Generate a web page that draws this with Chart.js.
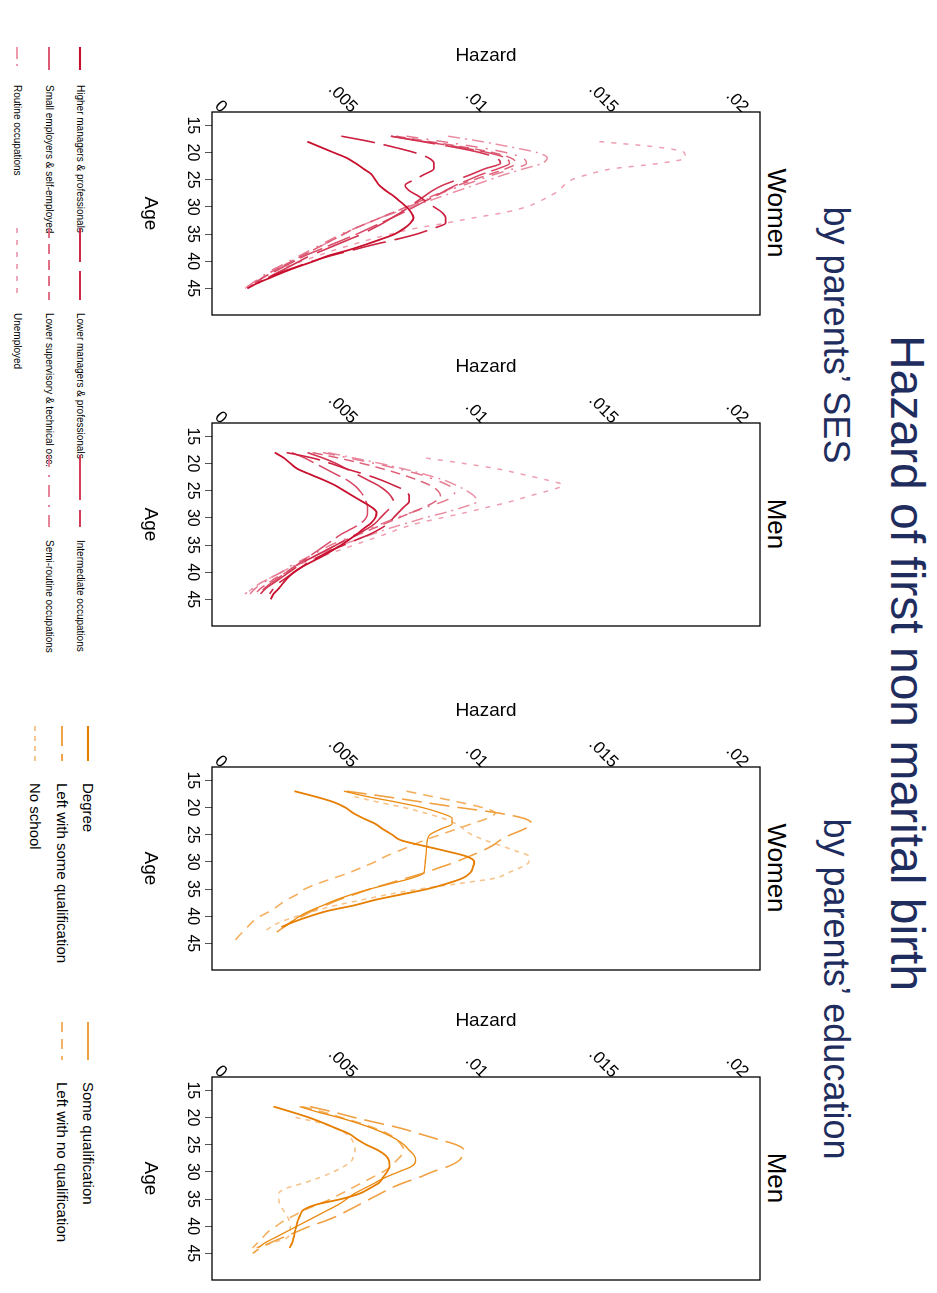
<!DOCTYPE html>
<html>
<head>
<meta charset="utf-8">
<script src="https://cdn.jsdelivr.net/npm/chart.js@4.4.0/dist/chart.umd.min.js"></script>
<style>
  html, body { margin: 0; padding: 0; background: #fff; overflow: hidden; }
  body { width: 937px; height: 1293px; position: relative; font-family: "Liberation Sans", Arial, sans-serif; }
  /* the figure is laid out in landscape and turned a quarter clockwise */
  #page { position: absolute; left: 0; top: 0; width: 1293px; height: 937px;
          transform-origin: 0 0; transform: translate(937px, 0) rotate(90deg); }
  #page canvas { position: absolute; }
  .txt { position: absolute; white-space: nowrap; line-height: 1; transform: translate(-50%, -50%); }
  .head { color: #1f2d5e; }
  .leg { position: absolute; white-space: nowrap; line-height: 1; transform: translateY(-50%); color: #000; }
  .sample { position: absolute; }
</style>
</head>
<body>
<div id="page">
  <div class="txt head" style="left:663px; top:30px; font-size:48px;">Hazard of first non marital birth</div>
  <div class="txt head" style="left:335px; top:101px; font-size:36px;">by parents’ SES</div>
  <div class="txt head" style="left:989px; top:101px; font-size:36px;">by parents’ education</div>
  <div class="txt" style="left:213px; top:160px; font-size:26px;">Women</div>
  <div class="txt" style="left:524px; top:160px; font-size:26px;">Men</div>
  <div class="txt" style="left:868px; top:160px; font-size:26px;">Women</div>
  <div class="txt" style="left:1178px; top:160px; font-size:26px;">Men</div>
  <canvas id="sesWomen" width="313" height="633" style="left:12px; top:172px;"></canvas>
  <canvas id="sesMen" width="313" height="633" style="left:323px; top:172px;"></canvas>
  <canvas id="eduWomen" width="313" height="633" style="left:667px; top:172px;"></canvas>
  <canvas id="eduMen" width="313" height="633" style="left:977px; top:172px;"></canvas>
</div>
<script>
// ages 17..46, hazards are per 1000
const ages = [17, 18, 19, 20, 21, 22, 23, 24, 25, 26, 27, 28, 29, 30, 31, 32, 33, 34, 35, 36, 37, 38, 39, 40, 41, 42, 43, 44, 45, 46];
const ageTicks = [15, 20, 25, 30, 35, 40, 45];
const hazardTicks = [0, 0.005, 0.01, 0.015, 0.02];
const hazardLabels = ['0', '.005', '.01', '.015', '.02'];

const sesNames = ['Higher managers & professionals', 'Lower managers & professionals', 'Intermediate occupations',
  'Small employers & self-employed', 'Lower supervisory & technical occ.', 'Semi-routine occupations',
  'Routine occupations', 'Unemployed'];
const eduNames = ['Degree', 'Some qualification', 'Left with some qualification', 'Left with no qualification', 'No school'];

// parents' SES, women
const sesW1 = [null, 3.2, 3.7, 4.2, 4.7, 5.05, 5.35, 5.65, 5.8, 5.95, 6.2, 6.5, 6.75, 7.0, 7.17, 7.27, 7.15, 6.9, 6.55, 6.0, 5.4, 4.75, 4.0, 3.45, 2.85, 2.3, 1.8, 1.3, 0.9, null];
const sesW2 = [4.5, 5.6, 6.5, 7.3, 7.85, 8.05, 8.05, 7.7, 7.3, 6.95, 7.1, 7.45, 7.75, 8.05, 8.35, 8.5, 8.5, 8.0, 7.4, 6.6, 5.7, 4.9, 4.1, 3.4, 2.8, 2.2, 1.7, 1.3, null, null];
const sesW3 = [6.4, 7.6, 8.8, 9.8, 10.45, 10.6, 10.0, 9.5, 8.95, 8.4, 8.0, 7.7, 7.4, 7.1, 6.8, 6.45, 6.1, 5.7, 5.3, 4.8, 4.3, 3.8, 3.3, 2.9, 2.5, 2.1, 1.7, 1.35, null, null];
const sesW4 = [6.4, 7.7, 9.0, 10.1, 10.8, 10.95, 10.5, 9.9, 9.4, 8.9, 8.5, 8.1, 7.7, 7.3, 6.9, 6.45, 6.0, 5.55, 5.1, 4.6, 4.1, 3.6, 3.1, 2.7, 2.3, 1.9, 1.5, 1.2, null, null];
const sesW5 = [6.6, 7.9, 9.2, 10.3, 11.0, 11.2, 10.8, 10.2, 9.6, 9.0, 8.5, 8.0, 7.5, 7.0, 6.5, 6.0, 5.5, 5.0, 4.6, 4.2, 3.8, 3.4, 3.0, 2.6, 2.2, 1.8, 1.5, 1.2, 0.9, null];
const sesW6 = [7.0, 8.4, 9.7, 10.8, 11.45, 11.6, 11.1, 10.4, 9.8, 9.2, 8.6, 8.1, 7.6, 7.05, 6.5, 6.0, 5.5, 5.0, 4.5, 4.1, 3.7, 3.3, 2.9, 2.5, 2.1, 1.7, 1.4, 1.1, 0.8, null];
const sesW7 = [8.6, 9.9, 11.0, 12.0, 12.4, 12.2, 11.5, 10.8, 10.2, 9.6, 9.0, 8.4, 7.8, 7.2, 6.6, 6.0, 5.5, 5.0, 4.6, 4.2, 3.8, 3.4, 3.0, 2.6, 2.2, 1.8, 1.5, 1.2, 0.9, null];
const sesW8 = [null, 14.4, 16.6, 17.65, 17.7, 16.7, 14.9, 14.0, 13.35, 13.05, 12.85, 12.5, 12.1, 11.6, 10.8, 9.6, 8.5, 7.3, 6.4, 5.6, 4.9, 4.2, 3.6, 3.0, 2.4, 1.9, 1.5, 1.1, 0.8, null];

// parents' SES, men
const sesM1 = [null, 1.95, 2.3, 2.55, 2.82, 3.3, 3.8, 4.25, 4.6, 4.95, 5.3, 5.65, 5.85, 5.8, 5.63, 5.35, 5.1, 4.8, 4.5, 4.15, 3.8, 3.4, 3.0, 2.68, 2.45, 2.27, 2.1, 1.9, 1.8, null];
const sesM2 = [null, 2.4, 3.4, 4.1, 4.7, 5.4, 6.0, 6.5, 6.95, 7.1, 7.1, 6.9, 6.7, 6.5, 6.3, 6.0, 5.6, 5.1, 4.6, 4.1, 3.7, 3.3, 3.0, 2.7, 2.4, 2.1, 1.9, 1.75, null, null];
const sesM3 = [null, 3.2, 3.8, 4.3, 4.7, 5.1, 5.5, 5.9, 6.2, 6.4, 6.5, 6.4, 6.2, 6.0, 5.8, 5.5, 5.1, 4.7, 4.3, 3.9, 3.5, 3.1, 2.8, 2.5, 2.2, 1.9, 1.6, 1.4, null, null];
const sesM4 = [null, 2.6, 3.1, 3.5, 3.9, 4.3, 4.7, 5.0, 5.2, 5.35, 5.45, 5.5, 5.5, 5.45, 5.25, 4.9, 4.5, 4.2, 3.9, 3.6, 3.3, 3.0, 2.7, 2.4, 2.1, 1.8, 1.55, 1.3, null, null];
const sesM5 = [null, 3.4, 4.4, 5.3, 6.1, 6.8, 7.4, 7.9, 8.2, 8.3, 8.1, 7.7, 7.2, 6.7, 6.2, 5.7, 5.2, 4.7, 4.3, 3.9, 3.5, 3.1, 2.7, 2.4, 2.0, 1.7, 1.4, 1.2, null, null];
const sesM6 = [null, 3.8, 4.8, 5.8, 6.7, 7.5, 8.1, 8.6, 8.85, 8.8, 8.4, 7.8, 7.2, 6.6, 6.1, 5.6, 5.1, 4.6, 4.1, 3.7, 3.3, 2.9, 2.5, 2.2, 1.8, 1.5, 1.2, 1.0, null, null];
const sesM7 = [null, 4.0, 5.0, 6.0, 6.9, 7.7, 8.4, 8.9, 9.3, 9.6, 9.7, 9.2, 8.5, 7.7, 7.0, 6.3, 5.7, 5.1, 4.5, 4.0, 3.5, 3.0, 2.6, 2.2, 1.8, 1.4, 1.1, 0.8, null, null];
const sesM8 = [null, null, 7.75, 9.2, 10.5, 11.45, 12.35, 13.0, 12.45, 11.7, 11.0, 10.15, 9.3, 8.35, 7.43, 6.75, 6.2, 5.6, 5.0, 4.4, 3.8, 3.2, 2.7, 2.2, 1.8, 1.4, 1.1, 0.85, null, null];

// parents' education, women
const eduW1 = [2.7, 3.5, 4.2, 4.65, 4.95, 5.35, 5.8, 6.1, 6.45, 6.77, 7.6, 8.5, 9.3, 9.6, 9.55, 9.45, 9.15, 8.55, 7.8, 6.8, 5.8, 5.0, 4.0, 3.3, 2.7, 2.2, null, null, null, null];
const eduW2 = [4.6, 5.5, 6.6, 7.6, 8.3, 8.75, 8.75, 8.3, 7.9, 7.8, 7.78, 7.76, 7.74, 7.72, 7.7, 7.68, 7.2, 6.4, 5.6, 4.9, 4.3, 3.8, 3.3, 2.9, 2.6, 2.3, null, null, null, null];
const eduW3 = [4.7, 6.2, 7.6, 9.0, 10.5, 11.5, 11.8, 11.5, 11.0, 10.6, 10.3, 9.9, 9.4, 8.9, 8.3, 7.7, 7.0, 6.3, 5.6, 5.0, 4.4, 3.9, 3.4, 3.0, 2.6, 2.3, 2.0, null, null, null];
const eduW4 = [7.0, 8.0, 9.0, 9.9, 10.4, 10.1, 9.5, 8.9, 8.3, 7.7, 7.2, 6.7, 6.2, 5.8, 5.3, 4.8, 4.2, 3.6, 3.1, 2.8, 2.4, 2.1, 1.8, 1.4, 1.1, 0.9, 0.7, 0.5, 0.35, null];
const eduW5 = [null, 5.0, 5.9, 6.9, 7.7, 8.4, 8.9, 9.2, 9.5, 10.0, 10.6, 11.2, 11.7, 11.7, 11.4, 10.9, 10.4, 9.0, 7.5, 6.3, 5.3, 4.3, 3.5, 2.8, 2.2, 1.8, 1.5, null, null, null];

// parents' education, men
const eduM1 = [null, 1.9, 2.6, 3.25, 3.8, 4.3, 4.8, 5.1, 5.45, 5.9, 6.2, 6.33, 6.35, 6.25, 6.1, 5.95, 5.6, 5.2, 4.5, 3.56, 3.05, 2.92, 2.83, 2.78, 2.72, 2.68, 2.62, 2.51, null, null];
const eduM2 = [null, 2.9, 3.6, 4.4, 5.1, 5.7, 6.2, 6.6, 6.9, 7.1, 7.3, 7.35, 7.2, 6.7, 6.2, 5.8, 5.4, 5.0, 4.7, 4.4, 4.0, 3.6, 3.2, 2.8, 2.4, 2.0, 1.6, 1.3, null, null];
const eduM3 = [null, 3.3, 4.2, 5.0, 5.9, 6.8, 7.5, 8.2, 8.9, 9.2, 9.15, 9.0, 8.6, 8.0, 7.5, 6.9, 6.4, 6.0, 5.6, 5.2, 4.8, 4.4, 3.9, 3.3, 2.8, 2.3, 1.8, 1.4, 1.1, null];
const eduM4 = [null, 3.0, 3.8, 4.5, 5.2, 5.8, 6.3, 6.6, 6.8, 6.9, 6.8, 6.6, 6.4, 6.1, 5.7, 5.3, 4.9, 4.5, 4.1, 3.6, 3.1, 2.7, 2.3, 2.0, 1.7, 1.5, 1.3, 1.1, null, null];
const eduM5 = [null, null, null, 2.75, 3.7, 4.3, 4.7, 4.9, 5.0, 5.03, 4.97, 4.89, 4.6, 4.2, 3.7, 3.1, 2.4, 2.1, 2.1, 2.14, 2.27, 2.4, 2.5, 2.55, 2.52, 2.45, 1.9, 1.2, null, null];

const sesColors = ['#c8102e', '#cc1f3f', '#d23451', '#d84a66', '#de617a', '#e4788f', '#ea8fa3', '#ee9fb2'];
const sesDash = [[], [34, 9], [45, 10], [24, 6], [10, 6], [12, 8, 2, 8], [12, 5, 2, 5], [5, 7]];
const sesWidth = [1.8, 1.6, 1.6, 1.5, 1.5, 1.5, 1.5, 1.5];
const eduColors = ['#e67e00', '#ea8a10', '#f0a040', '#f3b060', '#f6c48c'];
const eduDash = [[], [], [20, 8], [10, 7], [5, 5]];
const eduWidth = [1.8, 1.3, 1.6, 1.6, 1.6];

Chart.defaults.font.family = '"Liberation Sans", Arial, sans-serif';
Chart.defaults.color = '#000';

// frame round the plot region
const boxPlugin = {
  id: 'box',
  afterDraw(chart) {
    const a = chart.chartArea, ctx = chart.ctx;
    ctx.save();
    ctx.strokeStyle = '#000';
    ctx.lineWidth = 1.3;
    ctx.strokeRect(a.left, a.top, a.right - a.left, a.bottom - a.top);
    ctx.restore();
  }
};

function makePanel(id, series, colors, dashes, widths) {
  return new Chart(document.getElementById(id), {
    type: 'line',
    data: {
      datasets: series.map((vals, i) => ({
        data: ages.map((a, j) => ({ x: a, y: vals[j] == null ? null : vals[j] / 1000 })),
        borderColor: colors[i],
        borderWidth: widths[i],
        borderDash: dashes[i],
        pointRadius: 0,
        fill: false,
        cubicInterpolationMode: 'monotone'
      }))
    },
    options: {
      responsive: false,
      animation: false,
      devicePixelRatio: 1,
      layout: { padding: { left: 0, top: 5, right: 10, bottom: 0 } },
      plugins: { legend: { display: false }, tooltip: { enabled: false } },
      scales: {
        x: {
          type: 'linear', min: 12.55, max: 49.9,
          afterBuildTicks: s => { s.ticks = ageTicks.map(v => ({ value: v })); },
          afterFit: s => { s.height = 80; s.paddingLeft = 0; s.paddingRight = 0; },
          grid: { display: true, drawOnChartArea: false, drawTicks: true, tickLength: 7, color: '#555' },
          border: { display: false },
          ticks: { font: { size: 16 }, padding: 3, maxRotation: 0, autoSkip: false, callback: v => String(v) },
          title: { display: true, text: 'Age', font: { size: 19 }, padding: { top: 0, bottom: 6.6 } }
        },
        y: {
          type: 'linear', min: -0.00046, max: 0.02056,
          afterBuildTicks: s => { s.ticks = hazardTicks.map(v => ({ value: v })); },
          afterFit: s => { s.width = 100; s.paddingTop = 0; s.paddingBottom = 0; },
          grid: { display: false, drawTicks: false },
          border: { display: false },
          ticks: { font: { size: 17 }, padding: 2, minRotation: 45, maxRotation: 45,
                   callback: (v, i) => hazardLabels[i] },
          title: { display: true, text: 'Hazard', font: { size: 19 }, padding: { top: 32.6, bottom: 0 } }
        }
      }
    },
    plugins: [boxPlugin]
  });
}

makePanel('sesWomen', [sesW1, sesW2, sesW3, sesW4, sesW5, sesW6, sesW7, sesW8], sesColors, sesDash, sesWidth);
makePanel('sesMen', [sesM1, sesM2, sesM3, sesM4, sesM5, sesM6, sesM7, sesM8], sesColors, sesDash, sesWidth);
makePanel('eduWomen', [eduW1, eduW2, eduW3, eduW4, eduW5], eduColors, eduDash, eduWidth);
makePanel('eduMen', [eduM1, eduM2, eduM3, eduM4, eduM5], eduColors, eduDash, eduWidth);

// legends below the panels
const page = document.getElementById('page');
const NS = 'http://www.w3.org/2000/svg';
function addLegend(names, colors, dashes, widths, lay) {
  names.forEach((name, i) => {
    const col = i % lay.cols, row = Math.floor(i / lay.cols);
    const y = lay.rows[row];
    const [x1, x2] = lay.samples[col];
    const svg = document.createElementNS(NS, 'svg');
    svg.setAttribute('class', 'sample');
    svg.setAttribute('width', x2 - x1);
    svg.setAttribute('height', 6);
    svg.style.left = x1 + 'px';
    svg.style.top = (y - 3) + 'px';
    const ln = document.createElementNS(NS, 'line');
    ln.setAttribute('x1', 0); ln.setAttribute('x2', x2 - x1);
    ln.setAttribute('y1', 3); ln.setAttribute('y2', 3);
    ln.setAttribute('stroke', colors[i]);
    ln.setAttribute('stroke-width', widths[i] + 0.3);
    if (dashes[i].length) ln.setAttribute('stroke-dasharray', dashes[i].join(' '));
    svg.appendChild(ln);
    page.appendChild(svg);
    const t = document.createElement('div');
    t.className = 'leg';
    t.textContent = name;
    t.style.left = lay.text[col] + 'px';
    t.style.top = y + 'px';
    t.style.fontSize = lay.size + 'px';
    page.appendChild(t);
  });
}
addLegend(sesNames, sesColors, sesDash, sesWidth,
  { cols: 3, rows: [857, 888, 920], samples: [[47, 70], [228, 300], [455, 527]], text: [85, 313, 540], size: 10 });
addLegend(eduNames, eduColors, eduDash, eduWidth,
  { cols: 2, rows: [849, 875, 902], samples: [[726, 761], [1022, 1060]], text: [783, 1082], size: 15 });
</script>
</body>
</html>
